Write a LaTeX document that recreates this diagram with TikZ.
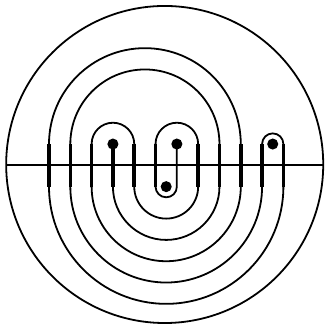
\documentclass[tikz,border=0pt]{standalone}
\usepackage{tikz}
\begin{document}
\begin{tikzpicture}[x=0.5cm, y=0.5cm, line width=1.2pt,
    seam/.style={line width=2.4pt},
    puncture/.style={fill=black}]
  \useasboundingbox (-2.3,-7.54) rectangle (12.91,7.76);
  %% Outer disc and its horizontal diameter
  \coordinate (centre) at (5.43,0.04);
  \draw (centre) circle (7.44);
  \coordinate (west) at (-2.01,0);
  \coordinate (east) at (12.87,0);
  \draw[line width=1.5pt] (west) -- (east);
  %% The meandering curve, from one puncture to the other
  \draw (3,1) -- (3,-1) arc (180:360:2.5) -- (8,1) arc (0:180:3.5)
    -- (1,-1) arc (180:360:4.5) -- (10,1) arc (180:0:0.5)
    -- (11,-1) arc (360:180:5.5) -- (0,1) arc (180:0:4.5)
    -- (9,-1) arc (360:180:3.5) -- (2,1) arc (180:0:1)
    -- (4,-1) arc (180:360:1.5) -- (7,1) arc (0:180:1)
    -- (5,-1) arc (180:360:0.5) -- (6,1);
  %% Thick pieces where the curve crosses the diameter
  \foreach \u in {0,...,5,7,8,9,10,11}
    \draw[seam] (\u,-1) -- (\u,1);
  %% Punctures
  \foreach \p in {(3,1),(6,1),(10.5,1),(5.5,-1)}
    \fill[puncture] \p circle (0.26);
\end{tikzpicture}
\end{document}
